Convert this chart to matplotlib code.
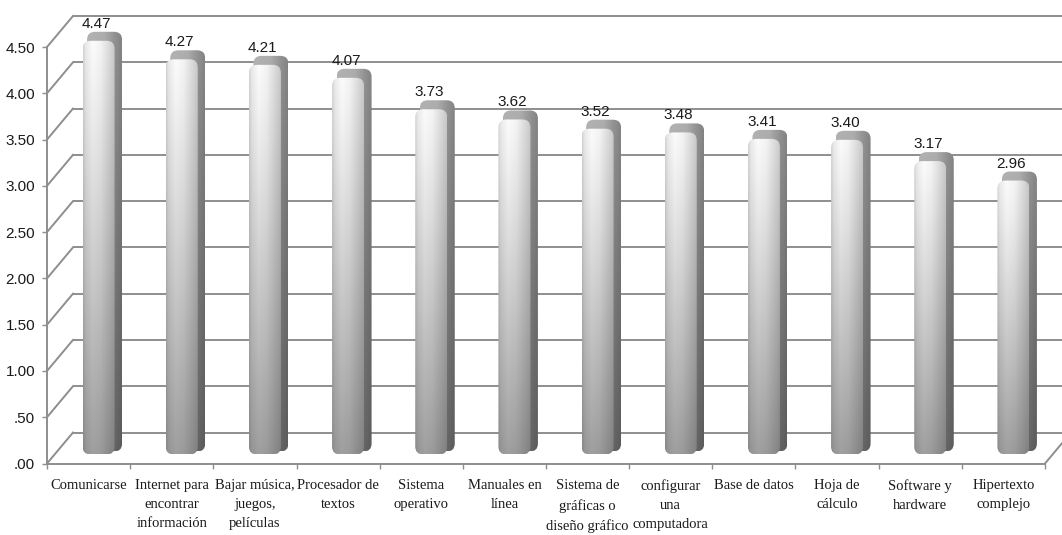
import numpy as np
import matplotlib
matplotlib.use("Agg")
import matplotlib.pyplot as plt
from matplotlib.patches import FancyBboxPatch

# ---- data ----
categories = [
    "Comunicarse",
    "Internet para\nencontrar\ninformación",
    "Bajar música,\njuegos,\npelículas",
    "Procesador de\ntextos",
    "Sistema\noperativo",
    "Manuales en\nlínea",
    "Sistema de\ngráficas o\ndiseño gráfico",
    "configurar\nuna\ncomputadora",
    "Base de datos",
    "Hoja de\ncálculo",
    "Software y\nhardware",
    "Hipertexto\ncomplejo",
]
values = [4.47, 4.27, 4.21, 4.07, 3.73, 3.62, 3.52, 3.48, 3.41, 3.40, 3.17, 2.96]
ytick_values = [0.0, 0.5, 1.0, 1.5, 2.0, 2.5, 3.0, 3.5, 4.0, 4.5]
ytick_labels = [".00", ".50", "1.00", "1.50", "2.00", "2.50", "3.00", "3.50", "4.00", "4.50"]

# ---- figure / axes ----
W, H, DPI = 1062, 535, 100
fig = plt.figure(figsize=(W / DPI, H / DPI), dpi=DPI)
fig.patch.set_facecolor("white")

n = len(categories)
ymax_axis = 5.0
ax_left_px, ax_right_px = 47, 1045
ax_bottom_px = 463.5                       # y of the zero line (from top)
ppu_y = (463.5 - 47) / 4.5                 # pixels per y unit
ax_h_px = ymax_axis * ppu_y
ax = fig.add_axes([ax_left_px / W, (H - ax_bottom_px) / H,
                   (ax_right_px - ax_left_px) / W, ax_h_px / H])
ax.set_xlim(0, n)
ax.set_ylim(0, ymax_axis)
ax.set_facecolor("none")

sx = (ax_right_px - ax_left_px) / n        # pixels per x unit
sy = ppu_y

def px_x(p):
    return p / sx

def px_y(p):
    return p / sy

grid_col = "#8e8e8e"
grid_lw = 1.4

# depth of the 3-D box (back wall offset)
ddx, ddy = px_x(26), px_y(31)
top = ytick_values[-1]

# back wall gridlines and side-wall diagonals
for v in ytick_values:
    ax.plot([ddx, n + ddx], [v + ddy, v + ddy], color=grid_col, lw=grid_lw,
            clip_on=False, zorder=1, solid_capstyle="butt")
    ax.plot([0, ddx], [v, v + ddy], color=grid_col, lw=grid_lw,
            clip_on=False, zorder=1)
# floor right edge
ax.plot([n, n + ddx], [0, ddy], color=grid_col, lw=grid_lw, clip_on=False, zorder=1)

# spines
for s in ("top", "right"):
    ax.spines[s].set_visible(False)
ax.spines["left"].set_bounds(0, top)
for s in ("left", "bottom"):
    ax.spines[s].set_color(grid_col)
    ax.spines[s].set_linewidth(grid_lw)
    ax.spines[s].set_zorder(2)

# ticks
sans = ["Liberation Sans"]
serif = ["Liberation Serif"]
ax.set_yticks(ytick_values)
ax.set_yticklabels(ytick_labels, fontfamily=sans, fontsize=11, color="#1a1a1a")
ax.tick_params(axis="y", length=3.6, width=1.0, color=grid_col, pad=5)

centers = np.arange(n) + 0.5
ax.set_xticks(centers)
ax.set_xticklabels(categories, fontfamily=serif, fontsize=10.5, color="#1a1a1a",
                   linespacing=1.58)
ax.set_xticks(np.arange(n + 1), minor=True)
ax.tick_params(axis="x", which="major", length=0, pad=11.5)
ax.tick_params(axis="x", which="minor", length=3.6, width=1.0, color=grid_col)

# ---- gradient columns ----
def front_gradient(h=200, w=60):
    t = np.linspace(0, 1, h)[:, None]
    u = np.linspace(0, 1, w)[None, :]
    base = 0.985 - 0.36 * t ** 1.1
    hp = np.interp(u, [0.0, 0.08, 0.3, 0.55, 0.85, 1.0],
                   [0.84, 0.93, 1.0, 0.97, 0.86, 0.80])
    g = np.clip(base * hp, 0, 1)
    return np.dstack([g, g, g])

def cap_gradient(h=200, w=60):
    t = np.linspace(0, 1, h)[:, None]
    u = np.linspace(0, 1, w)[None, :]
    base = 0.70 - 0.22 * t
    hp = np.interp(u, [0.0, 0.5, 0.8, 1.0], [1.0, 0.97, 0.82, 0.74])
    g = np.clip(base * hp, 0, 1)
    return np.dstack([g, g, g])

front_img = front_gradient()
cap_img = cap_gradient()

front_w = px_x(32)
cap_w = px_x(35)
front_dx, front_dy = px_x(10), px_y(9)
cap_dx, cap_dy = px_x(16), px_y(18)
radius = px_x(8)
aspect = sx / sy

def rounded_gradient(x0, y0, w, h, img, z):
    patch = FancyBboxPatch((x0, y0), w, h,
                           boxstyle=f"round,pad=0,rounding_size={radius}",
                           mutation_aspect=aspect, facecolor="none",
                           edgecolor="none", zorder=z, clip_on=False)
    ax.add_patch(patch)
    im = ax.imshow(img, extent=[x0, x0 + w, y0, y0 + h], origin="upper",
                   aspect="auto", interpolation="bilinear", zorder=z)
    im.set_clip_path(patch)
    return patch

for c, v in zip(centers, values):
    # back / side shell of the column
    rounded_gradient(c - cap_w / 2 + cap_dx, front_dy + px_y(3),
                     cap_w, v + cap_dy - front_dy - px_y(3), cap_img, 3)
    # lit front face
    rounded_gradient(c - front_w / 2 + front_dx, front_dy,
                     front_w, v, front_img, 4)
    ax.annotate(f"{v:.2f}", (c, v), xytext=(8 * 0.72, 26 * 0.72),
                textcoords="offset points", ha="center", va="center",
                fontfamily=sans, fontsize=11, color="#1a1a1a", zorder=6,
                annotation_clip=False)

ax.set_xlim(0, n)
ax.set_ylim(0, ymax_axis)
fig.savefig("out.png", dpi=DPI, facecolor="white")
